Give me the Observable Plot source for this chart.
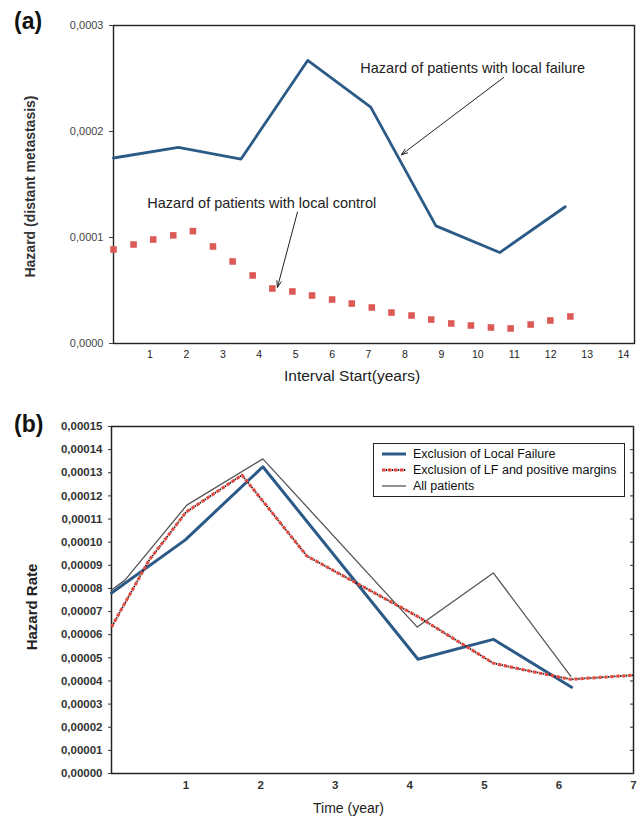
<!DOCTYPE html>
<html><head><meta charset="utf-8">
<script src="https://cdn.jsdelivr.net/npm/d3@7"></script>
<script src="https://cdn.jsdelivr.net/npm/@observablehq/plot@0.6"></script>
<style>
body{margin:0;background:#fff;font-family:"Liberation Sans",Arial,sans-serif;}
#wrap{position:relative;width:640px;height:821px;overflow:hidden;}
#a{position:absolute;left:0;top:0;}
#b{position:absolute;left:0;top:400px;}
.tag{position:absolute;left:14px;font-weight:bold;font-size:23px;line-height:1;color:#111;}
#legend{position:absolute;left:373px;top:443px;width:250px;height:52px;border:1.5px solid #222;background:#fff;font-size:12.5px;color:#111;}
.row{position:absolute;left:8px;height:16px;display:flex;align-items:center;white-space:nowrap;}
.row svg{margin-right:7px;}
</style></head><body>
<div id="wrap">
<div id="a"></div>
<div id="b"></div>
<div class="tag" style="top:10px">(a)</div>
<div class="tag" style="top:413px">(b)</div>
<div id="legend"></div>
</div>
<script>
// ---------- Panel (a) data ----------
const failYears = [0, 1.78, 3.5, 5.33, 7.06, 8.85, 10.6, 12.4];
const failHazard = [0.000175, 0.000185, 0.000174, 0.000267, 0.000223, 0.000111, 0.0000858, 0.000129];
const controlYears = [0, 0.55, 1.09, 1.64, 2.18, 2.73, 3.27, 3.82, 4.36, 4.91, 5.45, 6.0, 6.54, 7.09, 7.63, 8.18, 8.72, 9.27, 9.81, 10.36, 10.9, 11.45, 11.99, 12.54];
const controlHazard = [0.0000887, 0.0000934, 0.0000981, 0.000102, 0.000106, 0.0000915, 0.0000774, 0.0000642, 0.0000519, 0.0000491, 0.0000453, 0.0000415, 0.0000377, 0.000034, 0.0000292, 0.0000264, 0.0000226, 0.0000189, 0.000017, 0.0000151, 0.0000142, 0.0000179, 0.0000217, 0.0000255];
const yTicksA = [0, 0.0001, 0.0002, 0.0003];
const xTicksA = [1, 2, 3, 4, 5, 6, 7, 8, 9, 10, 11, 12, 13, 14];
const annotText = ["Hazard of patients with local failure", "Hazard of patients with local control"];
const annotX = [9.86, 4.07];
const annotY = [0.00026, 0.000132];
const arrowFromX = [10.71, 5.05];
const arrowFromY = [0.000251, 0.000124];
const arrowToX = [7.9, 4.5];
const arrowToY = [0.000178, 0.000053];

// ---------- Panel (b) data ----------
const exclLFYears = [0, 0.99, 2.03, 4.11, 5.12, 6.17];
const exclLFRate = [0.000078, 0.000101, 0.0001326, 0.0000494, 0.000058, 0.0000373];
const exclMarginYears = [0, 0.5, 1.0, 1.75, 2.62, 4.1, 5.12, 5.5, 6.16, 7.0];
const exclMarginRate = [0.0000633, 0.000092, 0.000113, 0.000129, 0.000094, 0.000068, 0.0000477, 0.000045, 0.0000407, 0.0000425];
const allYears = [0, 0.18, 1.01, 2.03, 4.1, 5.12, 6.16];
const allRate = [0.0000793, 0.0000836, 0.000116, 0.000136, 0.0000633, 0.0000867, 0.000042];
const yTicksB = [0, 0.00001, 0.00002, 0.00003, 0.00004, 0.00005, 0.00006, 0.00007, 0.00008, 0.00009, 0.0001, 0.00011, 0.00012, 0.00013, 0.00014, 0.00015];
const xTicksB = [1, 2, 3, 4, 5, 6, 7];
const legendLabels = ["Exclusion of Local Failure", "Exclusion of LF and positive margins", "All patients"];

const BLUE = "#2b5a87", RED = "#e0483f", GRAY = "#555";
const font = "Liberation Sans, Arial, sans-serif";

const failData = failYears.map((x, i) => ({x, y: failHazard[i]}));
const controlData = controlYears.map((x, i) => ({x, y: controlHazard[i]}));
const annots = annotText.map((t, i) => ({t, x: annotX[i], y: annotY[i], x1: arrowFromX[i], y1: arrowFromY[i], x2: arrowToX[i], y2: arrowToY[i]}));

const plotA = Plot.plot({
  width: 640, height: 400,
  marginLeft: 113, marginRight: 6, marginTop: 25, marginBottom: 57,
  style: {fontFamily: font, background: "#fff"},
  x: {domain: [0, 14.3]},
  y: {domain: [0, 0.0003]},
  marks: [
    Plot.frame({stroke: "#222", strokeWidth: 1.4}),
    Plot.axisY({ticks: yTicksA, tickFormat: d => d.toFixed(4).replace(".", ","), tickSize: 4, tickPadding: 6, fontSize: 11, color: "#444", label: null}),
    Plot.axisX({ticks: xTicksA, tickFormat: d => String(d), tickSize: 0, tickPadding: 7, fontSize: 10.5, color: "#222", label: null}),
    Plot.text(["Interval Start(years)"], {frameAnchor: "bottom", dx: -22, dy: 37, fontSize: 15.5, fill: "#222"}),
    Plot.text(["Hazard (distant metastasis)"], {frameAnchor: "left", textAnchor: "middle", dx: -83, dy: 2, rotate: -90, fontSize: 14, fontWeight: "bold", fill: "#333"}),
    Plot.line(failData, {x: "x", y: "y", stroke: BLUE, strokeWidth: 2.8}),
    Plot.dot(controlData, {x: "x", y: "y", symbol: "square", fill: "#dc5a55", r: 3.7}),
    Plot.text(annots, {x: "x", y: "y", text: "t", fontSize: 14.5, fill: "#222"}),
    Plot.arrow(annots, {x1: "x1", y1: "y1", x2: "x2", y2: "y2", stroke: "#222", strokeWidth: 1, headLength: 10, headAngle: 40})
  ]
});
document.getElementById("a").appendChild(plotA);

const lfData = exclLFYears.map((x, i) => ({x, y: exclLFRate[i]}));
const mgData = exclMarginYears.map((x, i) => ({x, y: exclMarginRate[i]}));
const allData = allYears.map((x, i) => ({x, y: allRate[i]}));

const plotB = Plot.plot({
  width: 640, height: 421,
  marginLeft: 111, marginRight: 7, marginTop: 26, marginBottom: 48,
  style: {fontFamily: font, background: "#fff"},
  x: {domain: [0, 7]},
  y: {domain: [0, 0.00015]},
  marks: [
    Plot.frame({stroke: "#222", strokeWidth: 1.5}),
    Plot.axisY({ticks: yTicksB, tickFormat: d => d.toFixed(5).replace(".", ","), tickSize: 3, tickPadding: 6, fontSize: 11.5, fontWeight: "bold", color: "#333", label: null}),
    Plot.axisY({anchor: "right", ticks: yTicksB, tickFormat: () => "", tickSize: -4, color: "#333", label: null}),
    Plot.axisX({ticks: xTicksB, tickFormat: d => String(d), tickSize: 0, tickPadding: 7, fontSize: 11.5, fontWeight: "bold", color: "#333", label: null}),
    Plot.text(["Time (year)"], {frameAnchor: "bottom", dx: -24, dy: 39, fontSize: 14, fill: "#222"}),
    Plot.text(["Hazard Rate"], {frameAnchor: "left", textAnchor: "middle", dx: -79, dy: 7, rotate: -90, fontSize: 15, fontWeight: "bold", fill: "#222"}),
    Plot.line(allData, {x: "x", y: "y", stroke: GRAY, strokeWidth: 1.3}),
    Plot.line(lfData, {x: "x", y: "y", stroke: BLUE, strokeWidth: 3}),
    Plot.line(mgData, {x: "x", y: "y", stroke: "#222", strokeWidth: 1.8, strokeLinecap: "butt", strokeDasharray: "1.5 4.5", strokeDashoffset: -3.8}),
    Plot.line(mgData, {x: "x", y: "y", stroke: RED, strokeWidth: 3, strokeLinecap: "butt", strokeDasharray: "3.5 2.5"})
  ]
});
document.getElementById("b").appendChild(plotB);

// Legend
const legend = document.getElementById("legend");
const swatches = [
  `<line x1="0" y1="5" x2="24" y2="5" stroke="${BLUE}" stroke-width="3"/>`,
  `<line x1="0" y1="5" x2="24" y2="5" stroke="#222" stroke-width="1.8" stroke-dasharray="1.5 4.5" stroke-dashoffset="-3.8"/><line x1="0" y1="5" x2="24" y2="5" stroke="${RED}" stroke-width="3" stroke-dasharray="3.5 2.5"/>`,
  `<line x1="0" y1="5" x2="24" y2="5" stroke="${GRAY}" stroke-width="1.3"/>`
];
const rowTops = [2, 18, 34];
legendLabels.forEach((lab, i) => {
  const r = document.createElement("div");
  r.className = "row";
  r.style.top = rowTops[i] + "px";
  r.innerHTML = `<svg width="24" height="10">${swatches[i]}</svg><span>${lab}</span>`;
  legend.appendChild(r);
});
</script>
</body></html>
